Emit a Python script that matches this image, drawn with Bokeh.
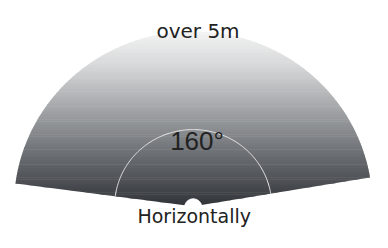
import numpy as np
from bokeh.plotting import figure
from bokeh.models import Range1d
from bokeh.core.properties import value
from bokeh.embed import file_html
from bokeh.resources import INLINE

# ---- content ----
fov_deg = 160
labels = ["over 5m", "160°", "Horizontally"]

# ---- layout (reference pixel space 388x248, y downward) ----
W, H = 372, 232
REF_W, REF_H = 388, 248
apex_x, apex_y = 201.0, 220.0
fan_r = 187.0
inner_r = 82.0
notch_r = 9.0
mid_angle = 91.0
spread = fov_deg + 3.0
a0 = np.radians(mid_angle - spread / 2)
a1 = np.radians(mid_angle + spread / 2)

# gradient stops (y pixel, rgb)
stop_y = [33, 70, 110, 160, 220]
stop_rgb = [(244, 244, 244), (214, 215, 216), (170, 172, 174), (112, 116, 120), (48, 51, 55)]

p = figure(width=W, height=H, output_backend="svg", toolbar_location=None,
           x_range=Range1d(0, REF_W), y_range=Range1d(REF_H, 0),
           min_border=0, outline_line_color=None)
p.axis.visible = False
p.grid.visible = False
p.background_fill_color = "white"
p.border_fill_color = "white"

# fan polygon
th = np.linspace(a0, a1, 240)
fan_x = np.concatenate([[apex_x], apex_x + fan_r * np.cos(th)])
fan_y = np.concatenate([[apex_y], apex_y - fan_r * np.sin(th)])
poly = list(zip(fan_x, fan_y))


def clip(poly, yv, keep_below):
    out = []
    n = len(poly)
    for i in range(n):
        cx, cy = poly[i]
        px, py = poly[i - 1]
        cin = (cy >= yv) if keep_below else (cy <= yv)
        pin = (py >= yv) if keep_below else (py <= yv)
        if cin:
            if not pin:
                t = (yv - py) / (cy - py)
                out.append((px + t * (cx - px), yv))
            out.append((cx, cy))
        elif pin:
            t = (yv - py) / (cy - py)
            out.append((px + t * (cx - px), yv))
    return out


ytop = float(fan_y.min())
edges = np.arange(ytop, apex_y + 2, 2.0)
xs, ys, cols = [], [], []
for ya, yb in zip(edges[:-1], edges[1:]):
    band = clip(clip(poly, ya, True), yb + 0.6, False)
    if len(band) < 3:
        continue
    ym = (ya + yb) / 2
    rgb = [int(round(np.interp(ym, stop_y, [c[k] for c in stop_rgb]))) for k in range(3)]
    xs.append([q[0] for q in band])
    ys.append([q[1] for q in band])
    cols.append("#%02x%02x%02x" % tuple(rgb))
p.patches(xs, ys, fill_color=cols, line_color=None)

# inner arc
ti = np.linspace(a0, a1, 200)
p.line(apex_x + inner_r * np.cos(ti), apex_y - inner_r * np.sin(ti),
       line_color="#e8e8e8", line_width=1)

# notch at apex
tn = np.linspace(0, np.pi, 60)
p.patch(apex_x + notch_r * np.cos(tn), apex_y + 1 - notch_r * np.sin(tn),
        fill_color="white", line_color="white")

# texts
p.text(x=[206], y=[33], text=[labels[0]], text_font=value("DejaVu Sans"), text_font_size="20px",
       text_align="center", text_baseline="alphabetic", text_color="#222222")
p.text(x=[205], y=[150], text=[labels[1]], text_font=value("Liberation Sans"), text_font_size="26px",
       text_align="center", text_baseline="alphabetic", text_color="#222222")
p.text(x=[202], y=[242], text=[labels[2]], text_font=value("DejaVu Sans"), text_font_size="19px",
       text_align="center", text_baseline="bottom", text_color="#222222")

open("out.html", "w").write(file_html(p, INLINE))
